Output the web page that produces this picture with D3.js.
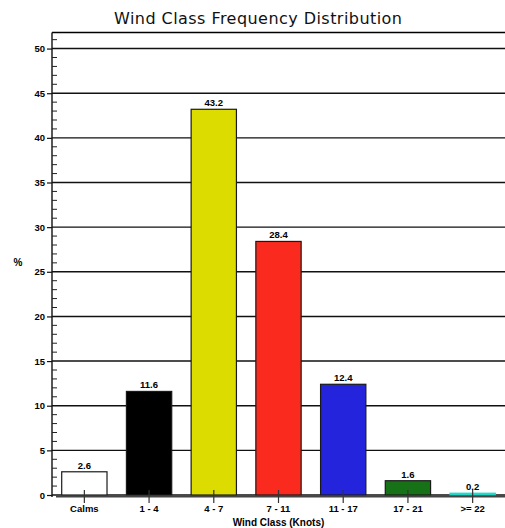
<!DOCTYPE html>
<html>
<head>
<meta charset="utf-8">
<script src="https://cdn.jsdelivr.net/npm/d3@7"></script>
<style>
  html, body { margin: 0; padding: 0; background: #fff; }
  svg { display: block; }
  text { font-family: "Liberation Sans", Arial, sans-serif; fill: #000; }
</style>
</head>
<body>
<svg id="chart" width="505" height="528"></svg>
<script>
const categories = ["Calms", "1 - 4", "4 - 7", "7 - 11", "11 - 17", "17 - 21", ">= 22"];
const values = [2.6, 11.6, 43.2, 28.4, 12.4, 1.6, 0.2];
const valueLabels = ["2.6", "11.6", "43.2", "28.4", "12.4", "1.6", "0.2"];
const barColors = ["#ffffff", "#000000", "#dcdc00", "#fa2a1e", "#2424dc", "#177217", "#22d6c6"];
const yTicks = [0, 5, 10, 15, 20, 25, 30, 35, 40, 45, 50];
const title = "Wind Class Frequency Distribution";
const xTitle = "Wind Class (Knots)";
const yTitle = "%";

(function () {
const svg = d3.select("#chart");
const pLeft = 52, pRight = 505, pTop = 32.5, pBottom = 495;

const x = d3.scaleBand().domain(categories).range([pLeft, pRight]).paddingInner(0.3).paddingOuter(0.15);
const y = d3.scaleLinear().domain([0, 51.8]).range([pBottom, pTop]);

// title
svg.append("text").attr("x", 258).attr("y", 24).attr("text-anchor", "middle")
  .attr("textLength", 288).attr("lengthAdjust", "spacing")
  .style("font-family", "'DejaVu Sans', sans-serif")
  .style("font-size", "16px").style("fill", "#111").text(title);

// plot frame top
svg.append("line").attr("x1", pLeft).attr("x2", pRight).attr("y1", pTop).attr("y2", pTop)
  .attr("stroke", "#000").attr("stroke-width", 1.3);

// gridlines
svg.append("g").selectAll("line").data(yTicks).join("line")
  .attr("x1", pLeft).attr("x2", pRight)
  .attr("y1", d => y(d)).attr("y2", d => y(d))
  .attr("stroke", "#111").attr("stroke-width", 1.4);

// bars
svg.append("g").selectAll("rect").data(values).join("rect")
  .attr("x", (d, i) => x(categories[i]))
  .attr("width", x.bandwidth())
  .attr("y", d => y(d))
  .attr("height", d => Math.max(1.5, y(0) - y(d)))
  .attr("fill", (d, i) => barColors[i])
  .attr("stroke", (d, i) => i === 6 ? barColors[i] : "#1a1a1a")
  .attr("stroke-width", 1.2);

// value labels
svg.append("g").selectAll("text").data(values).join("text")
  .attr("x", (d, i) => x(categories[i]) + x.bandwidth() / 2)
  .attr("y", d => y(d) - 3)
  .attr("text-anchor", "middle")
  .style("font-size", "9.5px").style("font-weight", "bold")
  .text((d, i) => valueLabels[i]);

// left axis
const yAxis = d3.axisLeft(y).tickValues(yTicks).tickSize(5).tickPadding(2);
const gy = svg.append("g").attr("transform", `translate(${pLeft},0)`).call(yAxis);
gy.select(".domain").attr("stroke", "#111").attr("stroke-width", 1.4).attr("d", `M0,${pTop}V${pBottom + 2}`);
gy.selectAll("text").style("font-size", "9.5px").style("font-weight", "bold").style("font-family", "'Liberation Sans', Arial, sans-serif");
gy.selectAll(".tick line").attr("stroke", "#111").attr("stroke-width", 1.2);

// minor ticks
const minor = d3.range(0, 52, 1).filter(v => v % 5 !== 0);
svg.append("g").selectAll("line").data(minor).join("line")
  .attr("x1", pLeft).attr("x2", pLeft + 5)
  .attr("y1", d => y(d)).attr("y2", d => y(d))
  .attr("stroke", "#222").attr("stroke-width", 1);

// bottom axis
svg.append("line").attr("x1", pLeft + 4).attr("x2", pRight).attr("y1", pBottom + 1.5).attr("y2", pBottom + 1.5)
  .attr("stroke", "#444").attr("stroke-width", 2);
const xAxis = d3.axisBottom(x).tickSize(7).tickPadding(4);
const gx = svg.append("g").attr("transform", `translate(0,${pBottom})`).call(xAxis);
gx.select(".domain").remove();
gx.selectAll(".tick line").attr("stroke", "#333").attr("stroke-width", 1.2).attr("y1", -5).attr("y2", 8);
gx.selectAll("text").style("font-size", "9.5px").style("font-weight", "bold").style("font-family", "'Liberation Sans', Arial, sans-serif").attr("y", 10);

// axis titles
svg.append("text").attr("x", (pLeft + pRight) / 2).attr("y", 526).attr("text-anchor", "middle")
  .style("font-size", "10px").style("font-weight", "bold").text(xTitle);
svg.append("text").attr("x", 18).attr("y", 266).attr("text-anchor", "middle")
  .style("font-size", "10px").style("font-weight", "bold").text(yTitle);
})();
</script>
</body>
</html>
